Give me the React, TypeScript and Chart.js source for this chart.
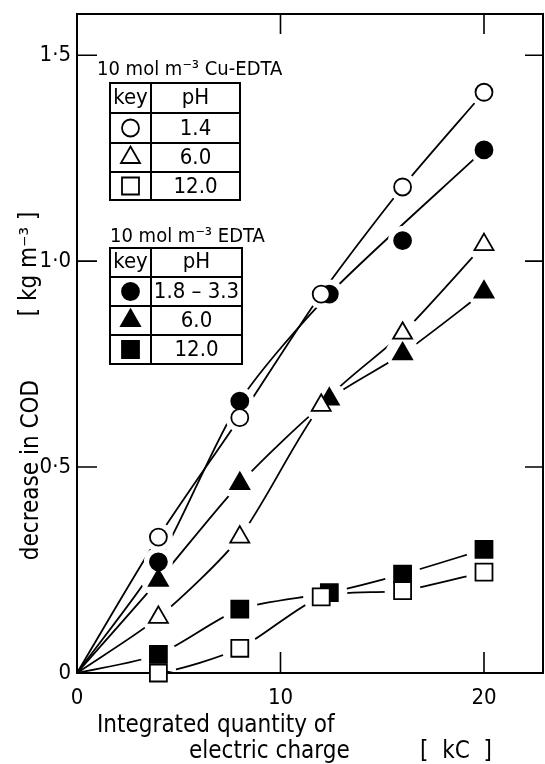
import React, { useEffect, useRef } from "react";
import { Chart, registerables } from "chart.js";

Chart.register(...registerables);

// ---- data ----
const chargeCu = [4, 8, 12, 16, 20];
const chargeEdta = [4, 8, 12.4, 16, 20];
const cuPh14 = [0.33, 0.62, 0.92, 1.18, 1.41];
const cuPh60 = [0.135, 0.33, 0.65, 0.825, 1.04];
const cuPh120 = [0.0, 0.06, 0.185, 0.2, 0.245];
const edtaPh18 = [0.27, 0.66, 0.92, 1.05, 1.27];
const edtaPh60 = [0.225, 0.46, 0.665, 0.775, 0.925];
const edtaPh120 = [0.045, 0.155, 0.195, 0.24, 0.3];
// points the drawn curve passes by rather than through (index into the series)
const edtaPh18OffCurve = [3];

const xTickValues = [0, 10, 20];
const yTickValues = [0, 0.5, 1, 1.5];
const yTickLabels = ["0", "0·5", "1·0", "1·5"];

const cuTitle = "10 mol m⁻³ Cu-EDTA";
const edtaTitle = "10 mol m⁻³ EDTA";
const keyHeader = "key";
const phHeader = "pH";
const cuPhLabels = ["1.4", "6.0", "12.0"];
const edtaPhLabels = ["1.8 – 3.3", "6.0", "12.0"];
const yTitle = "decrease in COD";
const yUnit = "[ kg m⁻³ ]";
const xTitle1 = "Integrated quantity of";
const xTitle2 = "electric charge";
const xUnit = "[  kC  ]";

const FONT = "'DejaVu Sans Condensed', 'DejaVu Sans', sans-serif";

type Series = { x: number[]; y: number[]; style: string; filled: boolean; skip: number[] };
const series: Series[] = [
  { x: chargeCu, y: cuPh14, style: "circle", filled: false, skip: [] },
  { x: chargeCu, y: cuPh60, style: "triangle", filled: false, skip: [] },
  { x: chargeCu, y: cuPh120, style: "rect", filled: false, skip: [] },
  { x: chargeEdta, y: edtaPh18, style: "circle", filled: true, skip: edtaPh18OffCurve },
  { x: chargeEdta, y: edtaPh60, style: "triangle", filled: true, skip: [] },
  { x: chargeEdta, y: edtaPh120, style: "rect", filled: true, skip: [] },
];

const radiusFor = (style: string) => (style === "circle" ? 8.5 : style === "triangle" ? 11 : 12);

function drawSymbol(ctx: CanvasRenderingContext2D, style: string, filled: boolean, cx: number, cy: number) {
  const r = radiusFor(style);
  ctx.save();
  ctx.lineWidth = 1.8;
  ctx.strokeStyle = "#000";
  ctx.fillStyle = filled ? "#000" : "#fff";
  ctx.beginPath();
  if (style === "circle") {
    ctx.arc(cx, cy, r, 0, Math.PI * 2);
  } else if (style === "triangle") {
    ctx.moveTo(cx, cy - r);
    ctx.lineTo(cx + r * Math.sin(Math.PI * 2 / 3), cy - r * Math.cos(Math.PI * 2 / 3));
    ctx.lineTo(cx + r * Math.sin(Math.PI * 4 / 3), cy - r * Math.cos(Math.PI * 4 / 3));
    ctx.closePath();
  } else {
    const s = r / Math.SQRT2;
    ctx.rect(cx - s, cy - s, 2 * s, 2 * s);
  }
  ctx.fill();
  ctx.stroke();
  ctx.restore();
}

function drawTable(
  ctx: CanvasRenderingContext2D,
  left: number,
  right: number,
  divider: number,
  rows: number[],
  labels: string[],
  items: Series[]
) {
  ctx.save();
  ctx.strokeStyle = "#000";
  ctx.lineWidth = 2;
  ctx.strokeRect(left, rows[0], right - left, rows[rows.length - 1] - rows[0]);
  ctx.beginPath();
  for (let i = 1; i < rows.length - 1; i++) {
    ctx.moveTo(left, rows[i]);
    ctx.lineTo(right, rows[i]);
  }
  ctx.moveTo(divider, rows[0]);
  ctx.lineTo(divider, rows[rows.length - 1]);
  ctx.stroke();
  ctx.fillStyle = "#000";
  ctx.font = `22px ${FONT}`;
  ctx.textAlign = "center";
  ctx.textBaseline = "middle";
  const keyX = (left + divider) / 2;
  const valX = (divider + right) / 2;
  ctx.fillText(keyHeader, keyX, (rows[0] + rows[1]) / 2);
  ctx.fillText(phHeader, valX, (rows[0] + rows[1]) / 2);
  for (let i = 0; i < labels.length; i++) {
    const cy = (rows[i + 1] + rows[i + 2]) / 2;
    drawSymbol(ctx, items[i].style, items[i].filled, keyX, cy);
    ctx.fillText(labels[i], valX, cy + 1);
  }
  ctx.restore();
}

const decorPlugin = {
  id: "decor",
  beforeDatasetsDraw(chart: any) {
    const { ctx, chartArea, scales } = chart;
    const { left, right, top, bottom } = chartArea;
    ctx.save();
    ctx.strokeStyle = "#000";
    ctx.lineWidth = 2;
    ctx.strokeRect(left, top, right - left, bottom - top);
    ctx.lineWidth = 1.6;
    ctx.beginPath();
    for (const t of scales.x.ticks) {
      if (t.value === 0) continue;
      const px = scales.x.getPixelForValue(t.value);
      ctx.moveTo(px, bottom);
      ctx.lineTo(px, bottom - 21);
      ctx.moveTo(px, top);
      ctx.lineTo(px, top + 20);
    }
    for (const t of scales.y.ticks) {
      if (t.value === 0) continue;
      const py = scales.y.getPixelForValue(t.value);
      ctx.moveTo(left, py);
      ctx.lineTo(left + 20, py);
      ctx.moveTo(right, py);
      ctx.lineTo(right - 18, py);
    }
    ctx.stroke();
    ctx.restore();
  },
  afterDraw(chart: any) {
    const { ctx } = chart;
    ctx.save();
    ctx.fillStyle = "#000";
    ctx.font = `24px ${FONT}`;
    // y title
    ctx.textAlign = "center";
    ctx.textBaseline = "middle";
    ctx.save();
    ctx.translate(32, 470);
    ctx.rotate(-Math.PI / 2);
    ctx.fillText(yTitle, 0, 0);
    ctx.restore();
    ctx.save();
    ctx.translate(30, 264);
    ctx.rotate(-Math.PI / 2);
    ctx.fillText(yUnit, 0, 0);
    ctx.restore();
    // x title
    ctx.textAlign = "left";
    ctx.fillText(xTitle1, 97, 726);
    ctx.fillText(xTitle2, 189, 752);
    ctx.fillText(xUnit, 420, 752);
    // legend titles
    ctx.font = `20px ${FONT}`;
    ctx.fillText(cuTitle, 97, 70);
    ctx.fillText(edtaTitle, 110, 237);
    ctx.restore();
    drawTable(ctx, 110, 240, 151, [83, 113, 143, 172, 200], cuPhLabels, series.slice(0, 3));
    drawTable(ctx, 110, 242, 151, [248, 277, 306, 335, 364], edtaPhLabels, series.slice(3, 6));
  },
};

export default function App() {
  const ref = useRef<HTMLCanvasElement | null>(null);
  useEffect(() => {
    if (!ref.current) return;
    const datasets: any[] = [];
    series.forEach((s) => {
      const pts = s.x.map((x, i) => ({ x, y: s.y[i] }));
      const curvePts = pts.filter((_, i) => s.skip.indexOf(i) < 0);
      const r = radiusFor(s.style);
      datasets.push({
        data: [{ x: 0, y: 0 }, ...curvePts],
        showLine: true,
        pointRadius: 0,
        borderColor: "#000",
        borderWidth: 1.8,
        tension: 0.25,
        fill: false,
        order: 3,
      });
      datasets.push({
        data: pts,
        showLine: false,
        pointStyle: "circle",
        pointRadius: r + 6,
        pointBackgroundColor: "#fff",
        pointBorderWidth: 0,
        pointBorderColor: "#fff",
        clip: -2,
        order: 2,
      });
      datasets.push({
        data: pts,
        showLine: false,
        pointStyle: s.style,
        pointRadius: r,
        pointBackgroundColor: s.filled ? "#000" : "#fff",
        pointBorderColor: "#000",
        pointBorderWidth: 1.8,
        clip: false,
        order: 1,
      });
    });
    const tickFont = { family: FONT, size: 22 };
    const chart = new Chart(ref.current, {
      type: "line",
      data: { datasets },
      plugins: [decorPlugin],
      options: {
        responsive: false,
        animation: false,
        events: [],
        layout: { autoPadding: false, padding: { left: 0, top: 14, right: 2, bottom: 0 } },
        plugins: { legend: { display: false }, tooltip: { enabled: false } },
        scales: {
          x: {
            type: "linear",
            min: 0,
            max: 22.9,
            afterBuildTicks: (s: any) => {
              s.ticks = xTickValues.map((v) => ({ value: v }));
            },
            afterFit: (s: any) => {
              s.height = 91;
              s.paddingLeft = 0;
              s.paddingRight = 0;
            },
            grid: { display: false, drawTicks: false },
            border: { display: false },
            ticks: {
              color: "#000",
              font: tickFont,
              padding: 12,
              maxRotation: 0,
              autoSkip: false,
              callback: (v: any) => String(v),
            },
          },
          y: {
            type: "linear",
            min: 0,
            max: 1.6,
            afterBuildTicks: (s: any) => {
              s.ticks = yTickValues.map((v) => ({ value: v }));
            },
            afterFit: (s: any) => {
              s.width = 77;
              s.paddingTop = 0;
              s.paddingBottom = 0;
            },
            grid: { display: false, drawTicks: false },
            border: { display: false },
            ticks: {
              color: "#000",
              font: tickFont,
              padding: 6,
              autoSkip: false,
              callback: (v: any) => {
                const i = yTickValues.indexOf(Number(v));
                return i >= 0 ? yTickLabels[i] : "";
              },
            },
          },
        },
      } as any,
    });
    return () => chart.destroy();
  }, []);
  return (
    <div style={{ position: "absolute", left: 0, top: 0, width: 545, height: 764, background: "#fff" }}>
      <canvas ref={ref} width={545} height={764} style={{ display: "block" }} />
    </div>
  );
}
